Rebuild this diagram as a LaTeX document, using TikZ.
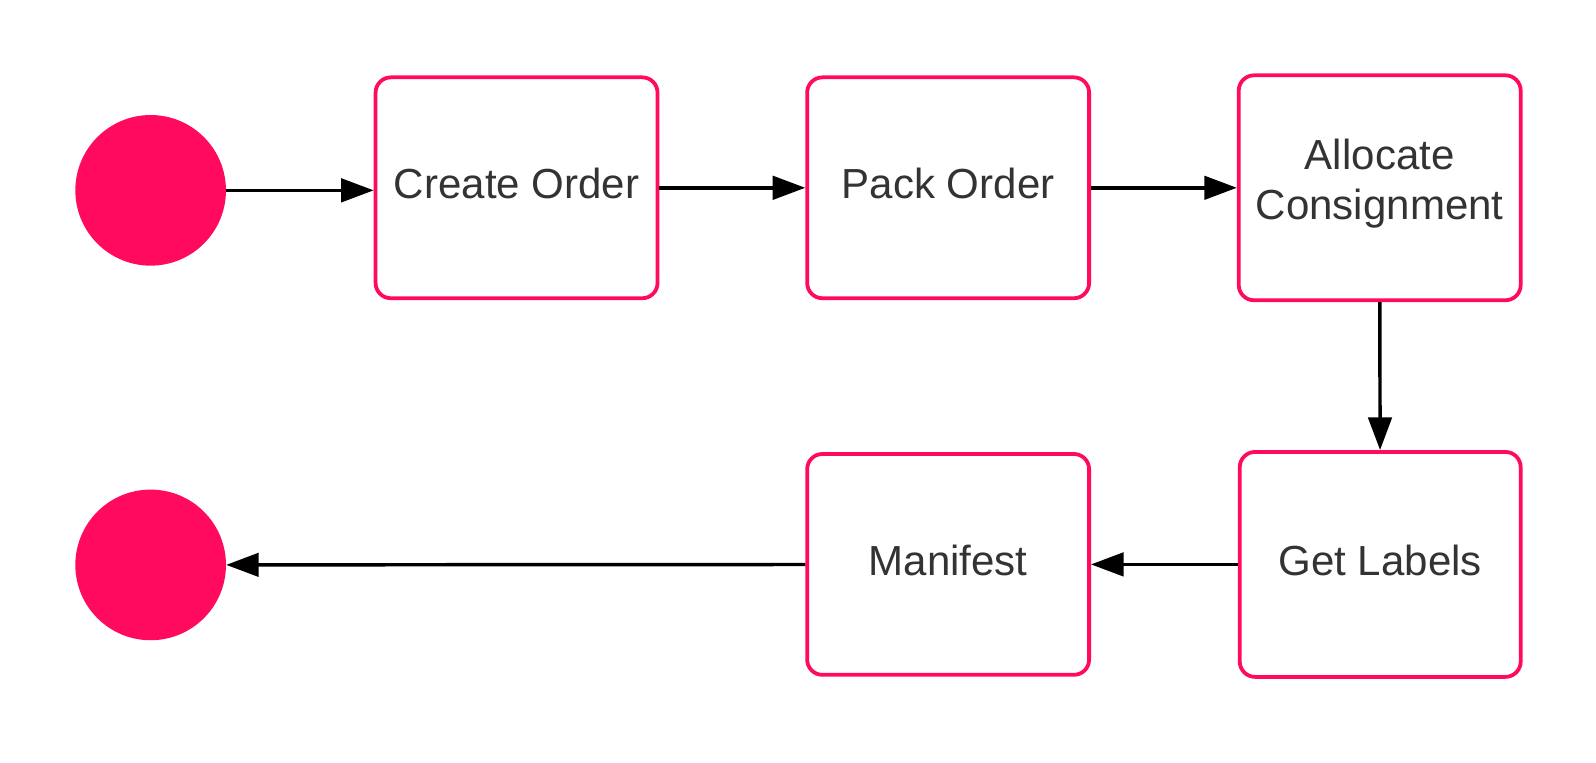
\documentclass[tikz,border=0pt]{standalone}
\usepackage{fontspec}
\setmainfont{Liberation Sans}
\usetikzlibrary{arrows.meta}
\definecolor{pinkc}{RGB}{255,10,95}
\definecolor{txt}{RGB}{51,51,51}
\begin{document}
\begin{tikzpicture}[x=1pt,y=-1pt,
  stepbox/.style={draw=pinkc,line width=3.7pt,rounded corners=15pt,fill=white,
    minimum width=277pt,minimum height=217pt,inner sep=0pt,
    label={[text=txt,align=center,yshift=4pt,
      font=\fontsize{41.3}{49.5}\selectfont]center:#1}},
  terminal/.style={circle,fill=pinkc,minimum size=148pt,inner sep=0pt},
  conn/.style={line width=3.4pt,-{Triangle[length=32pt,width=23pt]}}]
\useasboundingbox (0,0) rectangle (1568,749.6);
\node[terminal] (start) at (148,187) {};
\node[terminal] (end) at (148,555) {};
\node[stepbox={Create Order}] (create) at (507.5,184.5) {};
\node[stepbox={Pack Order}] (pack) at (931.5,184.5) {};
\node[stepbox={Allocate\\Consignment},minimum height=221pt] (alloc) at (1355.5,184.5) {};
\node[stepbox={Get Labels},minimum height=221pt,minimum width=276pt] (labels) at (1356,554.5) {};
\node[stepbox={Manifest}] (manifest) at (931.5,554.5) {};
\draw[conn] (start.east) -- (start.east -| create.west);
\draw[conn] (create) -- (pack);
\draw[conn] (pack) -- (alloc);
\draw[conn] (alloc) -- (labels);
\draw[conn] (labels) -- (manifest);
\draw[conn] (manifest) -- (end);
\end{tikzpicture}
\end{document}
